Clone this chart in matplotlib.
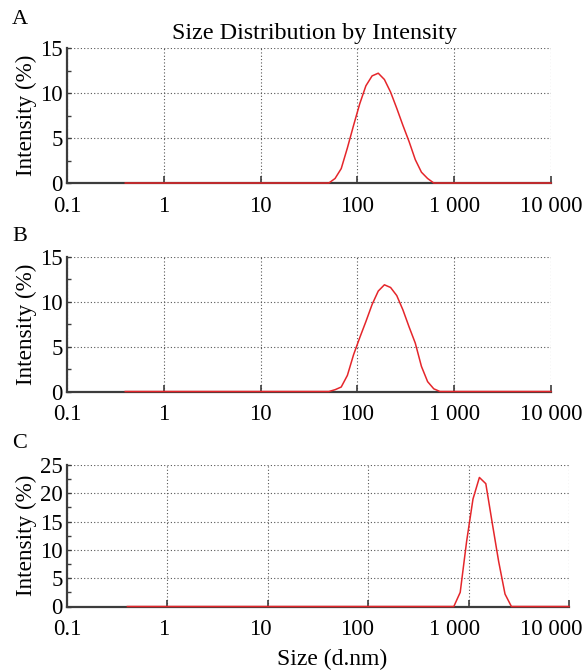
import matplotlib
matplotlib.use("Agg")
import matplotlib.pyplot as plt
from matplotlib.ticker import FixedLocator, MultipleLocator, NullLocator

plt.rcParams['font.family'] = ['Liberation Serif', 'DejaVu Serif']

# ---- data (size in d.nm, intensity in %) ----
size_a = [0.4, 50.75, 58.77, 68.06, 78.82, 91.28, 105.7, 122.4, 141.8, 164.2,
          190.1, 220.2, 255.0, 295.3, 342.0, 396.1, 458.7, 531.2, 615.1, 10000]
int_a = [0, 0, 0.5, 1.6, 3.9, 6.4, 8.8, 10.8, 11.9, 12.2,
         11.5, 10.1, 8.3, 6.4, 4.6, 2.6, 1.2, 0.5, 0, 0]

size_b = [0.4, 50.75, 58.77, 68.06, 78.82, 91.28, 105.7, 122.4, 141.8, 164.2,
          190.1, 220.2, 255.0, 295.3, 342.0, 396.1, 458.7, 531.2, 615.1, 712.4, 10000]
int_b = [0, 0, 0.2, 0.5, 1.8, 4.1, 6.0, 7.8, 9.7, 11.2,
         11.9, 11.6, 10.7, 9.1, 7.2, 5.4, 2.8, 1.1, 0.3, 0, 0]

size_c = [0.4, 712.4, 825.0, 955.4, 1106, 1281, 1484, 1718, 1990, 2305, 2669, 10000]
int_c = [0, 0, 2.5, 11.5, 19.0, 22.8, 21.7, 14.8, 8.0, 2.2, 0, 0]

x_ticks = [0.1, 1, 10, 100, 1000, 10000]
x_tick_labels = ['0.1', '1', '10', '100', '1 000', '10 000']
panel_letters = ['A', 'B', 'C']
y_max = [15, 15, 25]

W, H = 587, 670
fig = plt.figure(figsize=(W / 100, H / 100), dpi=100)

# axes boxes in pixels: left, right, top, bottom
boxes = [(67, 551, 48, 183), (67, 551, 257, 391.5), (67, 569, 465, 606.5)]
series = [(size_a, int_a), (size_b, int_b), (size_c, int_c)]
letter_y = [19, 237, 444]

spine_col = '#3c3c3c'
red = '#e5262b'
tick_fs = 16.5
x_pad = 9


def style_xlabels(ax):
    ax.set_xscale('log')
    ax.set_xlim(0.1, 10000)
    ax.xaxis.set_major_locator(FixedLocator(x_ticks))
    ax.xaxis.set_minor_locator(NullLocator())
    ax.set_xticklabels(x_tick_labels)


axes = []
for i, ((l, r, t, b), (xs, ys)) in enumerate(zip(boxes, series)):
    ax = fig.add_axes([l / W, (H - b) / H, (r - l) / W, (b - t) / H])
    axes.append(ax)
    style_xlabels(ax)
    ax.set_ylim(0, y_max[i])
    ax.plot(xs, ys, color=red, lw=1.1, zorder=3, clip_on=False)
    for s in ['top', 'right']:
        ax.spines[s].set_visible(False)
    for s in ['left', 'bottom']:
        ax.spines[s].set_color(spine_col)
        ax.spines[s].set_linewidth(1.6)
    ax.yaxis.set_major_locator(MultipleLocator(5))
    ax.yaxis.set_minor_locator(MultipleLocator(2.5))
    ax.tick_params(axis='x', which='major', direction='in', length=5, width=1.2,
                   color=spine_col, labelsize=tick_fs, pad=x_pad)
    ax.tick_params(axis='y', which='both', direction='in', length=3, width=1.0,
                   color=spine_col, labelsize=tick_fs, pad=3)
    ax.grid(True, which='major', color='#555555', linestyle=(0, (1, 2)), lw=0.8)
    ax.set_ylabel('Intensity (%)', fontsize=16.7, labelpad=0)
    ax.yaxis.set_label_coords(-30 / (r - l), 0.5)
    fig.text(12 / W, 1 - letter_y[i] / H, panel_letters[i], fontsize=16,
             ha='left', va='center')

# panel C: tick labels sit on the same horizontal scale as panels A and B
axes[2].tick_params(axis='x', labelbottom=False)
l, r = boxes[0][0], boxes[0][1]
t, b = boxes[2][2], boxes[2][3]
ax_lab = fig.add_axes([l / W, (H - b) / H, (r - l) / W, (b - t) / H], zorder=-1)
style_xlabels(ax_lab)
ax_lab.patch.set_visible(False)
for s in ax_lab.spines.values():
    s.set_visible(False)
ax_lab.set_yticks([])
ax_lab.tick_params(axis='x', length=0, labelsize=tick_fs, pad=x_pad)

fig.text(314 / W, 1 - 39 / H, 'Size Distribution by Intensity', fontsize=17.4,
         ha='center', va='baseline')
fig.text(332 / W, 1 - 665 / H, 'Size (d.nm)', fontsize=17,
         ha='center', va='baseline')

fig.savefig('out.png', dpi=100, facecolor='white')
